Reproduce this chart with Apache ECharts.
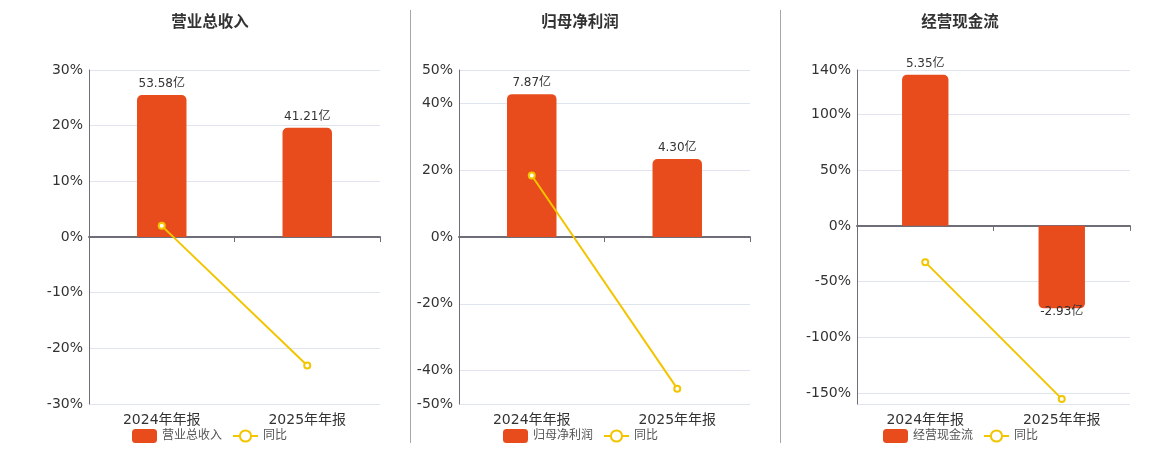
<!DOCTYPE html>
<html>
<head>
<meta charset="utf-8">
<script src="https://cdn.jsdelivr.net/npm/echarts@6/dist/echarts.min.js"></script>
<style>html,body{margin:0;padding:0;background:#fff}#c{width:1160px;height:450px}</style>
</head>
<body>
<div id="c"></div>
<script>
const categories = ['2024年年报', '2025年年报'];
const titles = ['营业总收入', '归母净利润', '经营现金流'];
const revenue = [53.58, 41.21];
const revenueYoY = [2.0, -23.1];
const profit = [7.87, 4.30];
const profitYoY = [18.4, -45.4];
const cashflow = [5.35, -2.93];
const cashflowYoY = [-32.6, -155.4];

// percent-axis tick labels and grid lines per panel
const revenueTicks = [-30, -20, -10, 0, 10, 20, 30];
const revenueGrid = [-30, -20, -10, 0, 10, 20, 30];
const profitTicks = [-50, -40, -20, 0, 20, 40, 50];
const profitGrid = [-50, -40, -20, 0, 20, 40, 50];
const cashflowTicks = [-150, -100, -50, 0, 50, 100, 140];
const cashflowGrid = [-160, -150, -100, -50, 0, 50, 100, 140];

const FONT = 'DejaVu Sans, "Noto Sans CJK SC", sans-serif';
const BAR = '#E84C1C';
const LINE = '#F2C500';

const panels = [
  { title: titles[0], bars: revenue, yoy: revenueYoY, center: 210, legendLeft: 132,
    grid: { left: 89, right: 780 }, pct: { min: -30, max: 30, labels: revenueTicks, lines: revenueGrid },
    bar: { min: -63, max: 63 } },
  { title: titles[1], bars: profit, yoy: profitYoY, center: 580, legendLeft: 503,
    grid: { left: 459, right: 410 }, pct: { min: -50, max: 50, labels: profitTicks, lines: profitGrid },
    bar: { min: -9.2, max: 9.2 } },
  { title: titles[2], bars: cashflow, yoy: cashflowYoY, center: 960, legendLeft: 883,
    grid: { left: 857, right: 30 }, pct: { min: -160, max: 140, labels: cashflowTicks, lines: cashflowGrid },
    bar: { min: -6.32, max: 5.52 } }
];

const option = {
  animation: false,
  textStyle: { fontFamily: FONT },
  title: [], legend: [], grid: [], xAxis: [], yAxis: [], series: [],
  graphic: [
    { type: 'line', shape: { x1: 410.5, y1: 10, x2: 410.5, y2: 443 }, style: { stroke: '#a8a8a0', lineWidth: 1 } },
    { type: 'line', shape: { x1: 780.5, y1: 10, x2: 780.5, y2: 443 }, style: { stroke: '#a8a8a0', lineWidth: 1 } }
  ]
};

panels.forEach((p, i) => {
  option.title.push({
    text: p.title, left: p.center, top: 15, padding: 0, textAlign: 'center',
    textStyle: { fontSize: 15.5, fontWeight: 'bold', color: '#333', fontFamily: FONT }
  });
  option.legend.push({
    left: p.legendLeft, top: 429, padding: 0, itemWidth: 25, itemHeight: 14, itemGap: 10,
    data: [p.title, '同比'],
    textStyle: { fontSize: 12, color: '#555', fontFamily: FONT }
  });
  option.grid.push({ left: p.grid.left, right: p.grid.right, top: 70, bottom: 46 });
  option.xAxis.push({
    type: 'category', gridIndex: i, data: categories,
    axisLine: { onZero: true, lineStyle: { color: '#6e6e78', width: 2 } },
    axisTick: { show: true, length: 5, lineStyle: { color: '#6e6e78' } },
    axisLabel: { fontSize: 14, color: '#333', margin: 9, fontFamily: FONT, interval: 0 }
  });
  option.yAxis.push({
    type: 'value', gridIndex: i, min: p.pct.min, max: p.pct.max,
    axisLine: { show: true, lineStyle: { color: '#6e6e78', width: 1 } },
    axisTick: { show: false, customValues: p.pct.lines },
    axisLabel: { fontSize: 14, color: '#333', margin: 6, fontFamily: FONT,
      formatter: '{value}%', customValues: p.pct.labels },
    splitLine: { show: true, lineStyle: { color: '#dfe4ef', width: 1 } }
  });
  option.yAxis.push({
    type: 'value', gridIndex: i, min: p.bar.min, max: p.bar.max, show: false,
    splitLine: { show: false }
  });
  option.series.push({
    name: p.title, type: 'bar', xAxisIndex: i, yAxisIndex: i * 2 + 1,
    barWidth: '34%',
    data: p.bars.map(v => ({
      value: v,
      itemStyle: { borderRadius: v >= 0 ? [5, 5, 0, 0] : [0, 0, 5, 5] },
      label: v >= 0 ? { position: 'top', distance: 5 } : { position: 'bottom', distance: -2 }
    })),
    itemStyle: { color: BAR },
    label: { show: true, fontSize: 12, color: '#333', fontFamily: FONT,
      formatter: (d) => d.value.toFixed(2) + '亿' }
  });
  option.series.push({
    name: '同比', type: 'line', xAxisIndex: i, yAxisIndex: i * 2,
    data: p.yoy, symbol: 'emptyCircle', symbolSize: 6,
    lineStyle: { color: LINE, width: 2 },
    itemStyle: { color: LINE, borderWidth: 1.5 },
    z: 5
  });
});

const chart = echarts.init(document.getElementById('c'), null, { renderer: 'canvas' });
chart.setOption(option);
</script>
</body>
</html>
